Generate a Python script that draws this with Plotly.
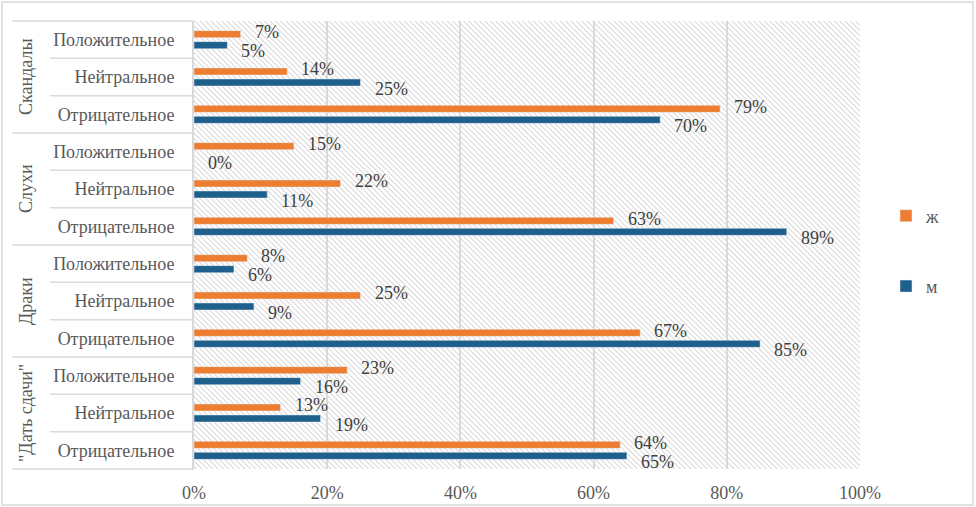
import base64
import plotly.graph_objects as go

# categories, top to bottom
groups = ['Скандалы', 'Слухи', 'Драки', '"Дать сдачи"']
attitudes = ['Положительное', 'Нейтральное', 'Отрицательное']

# percent values, same order (group by group, top to bottom)
zh_values = [7, 14, 79, 15, 22, 63, 8, 25, 67, 23, 13, 64]
m_values = [5, 25, 70, 0, 11, 89, 6, 9, 85, 16, 19, 65]

x_ticks = [0, 0.2, 0.4, 0.6, 0.8, 1.0]

ORANGE = '#ED7D31'
BLUE = '#1F5F8B'
GRID = '#d9d9d9'
TXT = '#595959'
FONT = 'Liberation Serif, Times New Roman, DejaVu Serif, serif'

rows = [a for g in groups for a in attitudes]
ypos = list(range(len(rows)))

# plot area in pixels
W, H = 976, 507
L, R, T, B = 194, 116, 21, 38
pw, ph = W - L - R, H - T - B

# hatched plot-area fill (Excel pattern fill)
svg = (
    f'<svg xmlns="http://www.w3.org/2000/svg" width="{pw}" height="{ph}">'
    '<defs><pattern id="p" width="3.8" height="6" patternUnits="userSpaceOnUse" '
    'patternTransform="rotate(-45)"><rect width="1" height="6" fill="#d6d6d6"/></pattern></defs>'
    f'<rect width="{pw}" height="{ph}" fill="url(#p)"/></svg>'
)
hatch = 'data:image/svg+xml;base64,' + base64.b64encode(svg.encode()).decode()

bargap = 0.41
half = (1 - bargap) / 4

fig = go.Figure()
fig.add_trace(go.Bar(
    y=ypos, x=[v / 100 for v in zh_values], orientation='h', name='ж',
    marker=dict(color=ORANGE), legendgroup='zh', hoverinfo='skip'
))
fig.add_trace(go.Bar(
    y=ypos, x=[v / 100 for v in m_values], orientation='h', name='м',
    marker=dict(color=BLUE), legendgroup='m', hoverinfo='skip'
))

annotations = []
# data labels
for i, (vz, vm) in enumerate(zip(zh_values, m_values)):
    annotations.append(dict(x=vz / 100, y=i - half, text=f'{vz}%', xref='x', yref='y',
                            xanchor='left', yanchor='middle', xshift=12, yshift=2, showarrow=False,
                            font=dict(size=18, color='#404040', family=FONT)))
    annotations.append(dict(x=vm / 100, y=i + half, text=f'{vm}%', xref='x', yref='y',
                            xanchor='left', yanchor='middle', xshift=12, yshift=-6, showarrow=False,
                            font=dict(size=18, color='#404040', family=FONT)))

# rotated group labels
n = len(rows)
for g, name in enumerate(groups):
    annotations.append(dict(x=(26 - L) / pw, y=1 - (g * 3 + 1.5) / n, xref='paper', yref='paper',
                            xanchor='center', yanchor='middle',
                            text=name, textangle=-90, showarrow=False,
                            font=dict(size=18, color=TXT, family=FONT)))

shapes = []
# category table lines
for k in range(n + 1):
    x0 = (12 - L) / pw if k % 3 == 0 else (50 - L) / pw
    shapes.append(dict(type='line', xref='paper', yref='paper', x0=x0, x1=0,
                       y0=k / n, y1=k / n, line=dict(color=GRID, width=1.5)))
# outer chart border
shapes.append(dict(type='rect', xref='paper', yref='paper',
                   x0=(2 - L) / pw, x1=(973 - L) / pw, y0=(T + ph - 505) / ph, y1=(T + ph - 2) / ph,
                   line=dict(color=GRID, width=1.5)))

fig.update_layout(
    width=W, height=H, autosize=False,
    margin=dict(l=L, r=R, t=T, b=B, autoexpand=False),
    paper_bgcolor='white', plot_bgcolor='rgba(0,0,0,0)',
    barmode='group', bargap=bargap, bargroupgap=0.36,
    font=dict(family=FONT, size=18, color=TXT),
    showlegend=True,
    legend=dict(x=(886 - L) / pw, y=(T + ph - 251) / ph, xanchor='left', yanchor='middle',
                traceorder='grouped', tracegroupgap=44, font=dict(size=18, color=TXT, family=FONT),
                bgcolor='rgba(0,0,0,0)'),
    xaxis=dict(range=[0, 1], tickvals=x_ticks, tickformat='.0%', showgrid=True,
               gridcolor=GRID, gridwidth=1.5, zeroline=False, showline=False, automargin=False,
               ticks='', ticklabelstandoff=11, tickfont=dict(size=18, color=TXT, family=FONT)),
    yaxis=dict(range=[n - 0.5, -0.5], tickvals=ypos, ticktext=rows, showgrid=False,
               zeroline=False, showline=True, linecolor=GRID, linewidth=2, automargin=False,
               ticks='', ticklabelstandoff=14, tickfont=dict(size=18, color=TXT, family=FONT)),
    images=[dict(source=hatch, xref='paper', yref='paper', x=0, y=1, sizex=1, sizey=1,
                 xanchor='left', yanchor='top', sizing='stretch', layer='below')],
    annotations=annotations,
    shapes=shapes,
)

fig.write_html('out.html', config={'displayModeBar': False},
               post_script="document.body.style.margin='0';")
